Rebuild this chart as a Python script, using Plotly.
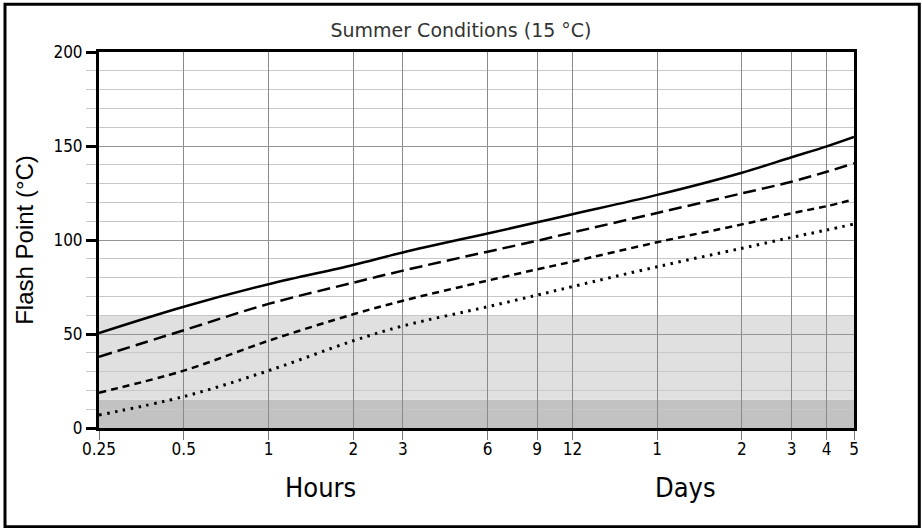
import numpy as np
import plotly.graph_objects as go

# time since spill, in hours (ticks below 24 h read as hours, above as days)
hours = [0.25, 0.5, 1, 2, 3, 6, 9, 12, 24, 48, 72, 96, 120]
tick_text = ['0.25', '0.5', '1', '2', '3', '6', '9', '12', '1', '2', '3', '4', '5']

# flash point curves (°C)
fp_solid = [50.5, 64.5, 76.5, 86.7, 93.4, 103.5, 109.4, 113.7, 124, 135.8, 144, 149.8, 154.8]
fp_longdash = [37.9, 52, 66, 77.3, 83.7, 93.8, 99.6, 104, 114.4, 124.8, 131, 136.3, 140.8]
fp_dash = [18.8, 30.5, 46.4, 60.5, 67.7, 78.4, 84.4, 88.5, 98.8, 108.3, 114.2, 118, 121.6]
fp_dot = [6.9, 16.7, 30.5, 46.4, 54.3, 64.5, 70.7, 75.2, 85.8, 95.6, 101.4, 105.3, 108.5]

narrow = 'Liberation Sans Narrow, DejaVu Sans Condensed, Liberation Sans, Arial'

fig = go.Figure()

styles = [(fp_solid, 'solid', 2.5), (fp_longdash, '13px,6px', 2.5),
          (fp_dash, '7px,5px', 2.5), (fp_dot, '2.5px,5.5px', 3)]
for ys, dash, w in styles:
    fig.add_trace(go.Scatter(x=hours, y=ys, mode='lines', line=dict(color='black', width=w, dash=dash, shape='spline'),
                             hoverinfo='skip', showlegend=False))

# shaded bands
fig.add_shape(type='rect', xref='paper', yref='y', x0=0, x1=1, y0=0, y1=15,
              fillcolor='#c2c2c2', line_width=0, layer='below')
fig.add_shape(type='rect', xref='paper', yref='y', x0=0, x1=1, y0=15, y1=60,
              fillcolor='#e0e0e0', line_width=0, layer='below')

# outer frame
fig.add_shape(type='rect', xref='paper', yref='paper', x0=-0.1245, x1=1.0865, y0=-0.2625, y1=1.127,
              line=dict(color='black', width=3), fillcolor='rgba(0,0,0,0)')

fig.add_annotation(text='Hours', xref='paper', yref='paper', x=0.293, y=-0.157, showarrow=False,
                   xanchor='center', yanchor='middle',
                   font=dict(family=narrow, size=27, color='black'))
fig.add_annotation(text='Days', xref='paper', yref='paper', x=0.777, y=-0.157, showarrow=False,
                   xanchor='center', yanchor='middle',
                   font=dict(family=narrow, size=27, color='black'))

fig.update_layout(
    width=922, height=528,
    margin=dict(l=99, r=68, t=52, b=100),
    paper_bgcolor='white', plot_bgcolor='white',
    title=dict(text='Summer Conditions (15 °C)', x=0.5, xanchor='center', y=0.943, yanchor='middle',
               font=dict(family='DejaVu Sans', size=19, color='#333333')),
    showlegend=False,
)

fig.update_xaxes(type='log', range=[np.log10(0.25), np.log10(120)],
                 tickvals=hours, ticktext=tick_text,
                 ticks='outside', ticklen=9, tickwidth=1, tickcolor='#777777',
                 tickfont=dict(family=narrow, size=17, color='black'),
                 ticklabelstandoff=-5,
                 showgrid=True, gridcolor='#8a8a8a', gridwidth=1,
                 showline=True, linecolor='black', linewidth=3, mirror=True,
                 zeroline=False)

fig.update_yaxes(range=[0, 200], tickvals=[0, 50, 100, 150, 200],
                 ticks='outside', ticklen=10, tickwidth=3, tickcolor='black',
                 tickfont=dict(family=narrow, size=17, color='black'),
                 showgrid=True, gridcolor='#959595', gridwidth=1,
                 minor=dict(dtick=10, showgrid=True, gridcolor='#c8c8c8', gridwidth=1,
                            ticks='outside', ticklen=10, tickcolor='#c8c8c8', tickwidth=1),
                 showline=True, linecolor='black', linewidth=3, mirror=True,
                 zeroline=False,
                 title=dict(text='Flash Point (°C)', standoff=14,
                            font=dict(family='Liberation Sans, Arial', size=24, color='black')))

fig.write_html('out.html', config={'displayModeBar': False},
               post_script="document.body.style.margin='0';")
